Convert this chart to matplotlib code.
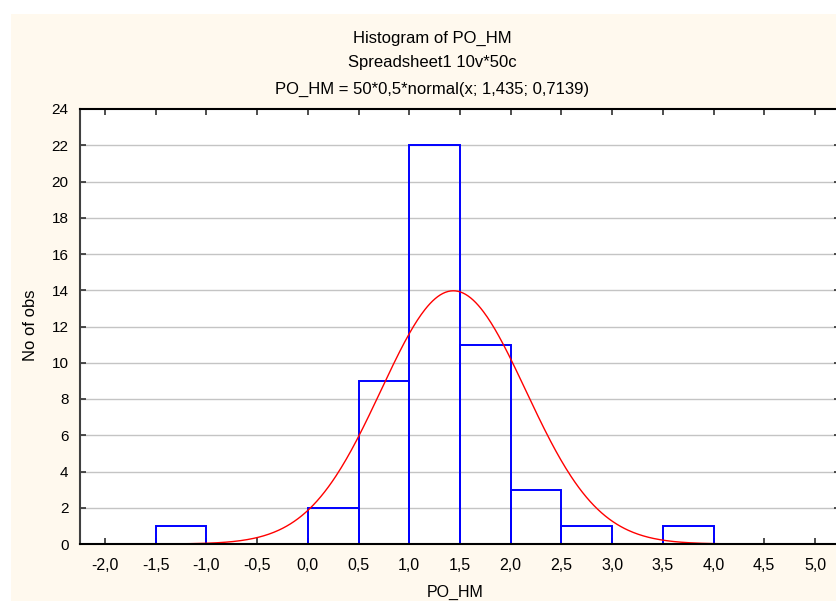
import numpy as np
import matplotlib
matplotlib.use("Agg")
import matplotlib.pyplot as plt

# ---- data ----
bin_edges_left = [-2.0, -1.5, -1.0, -0.5, 0.0, 0.5, 1.0, 1.5, 2.0, 2.5, 3.0, 3.5, 4.0, 4.5]
counts = [0, 1, 0, 0, 2, 9, 22, 11, 3, 1, 0, 1, 0, 0]
bin_width = 0.5
n_obs = 50
fit_mean = 1.435
fit_sd = 0.7139
x_ticks = [-2.0, -1.5, -1.0, -0.5, 0.0, 0.5, 1.0, 1.5, 2.0, 2.5, 3.0, 3.5, 4.0, 4.5, 5.0]
y_ticks = [0, 2, 4, 6, 8, 10, 12, 14, 16, 18, 20, 22, 24]
title_lines = ["Histogram of PO_HM", "Spreadsheet1 10v*50c",
               "PO_HM = 50*0,5*normal(x; 1,435; 0,7139)"]
x_label = "PO_HM"
y_label = "No of obs"

plt.rcParams['font.family'] = ['Liberation Sans', 'DejaVu Sans']

W, H = 837, 601
fig = plt.figure(figsize=(W / 100, H / 100), dpi=100, facecolor='white')

# cream panel
bg = fig.add_axes([11 / W, 0, 1 - 11 / W, (H - 14) / H], zorder=-10)
bg.set_facecolor('#FFF9EE')
bg.set_xticks([]); bg.set_yticks([])
for sp in bg.spines.values():
    sp.set_visible(False)

left_px, right_px, top_px, bottom_px = 79.6, 840.3, 109, 544
ax = fig.add_axes([left_px / W, (H - bottom_px) / H, (right_px - left_px) / W,
                   (bottom_px - top_px) / H], zorder=1)
ax.set_facecolor('white')
ax.set_xlim(-2.25, 5.25)
ax.set_ylim(0, 24)

# grid
for yv in y_ticks[1:-1]:
    ax.axhline(yv, color='#C4C4C4', lw=1.0, zorder=1)

# bars
ax.bar(bin_edges_left, counts, width=bin_width, align='edge', fill=False,
       edgecolor='#0000FF', linewidth=1.4, zorder=3)

# fitted normal curve (as stated in the chart subtitle)
xs = np.linspace(-2.25, 5.25, 600)
ys = n_obs * bin_width * np.exp(-0.5 * ((xs - fit_mean) / fit_sd) ** 2) / (fit_sd * np.sqrt(2 * np.pi))
ax.plot(xs, ys, color='#FF0000', lw=1.0, zorder=4)

ax.set_xticks(x_ticks)
ax.set_xticklabels([f"{v:.1f}".replace('.', ',') for v in x_ticks])
ax.set_yticks(y_ticks)
ax.set_yticklabels([str(v) for v in y_ticks])
ax.tick_params(axis='both', direction='in', length=4, width=1.2, color='#303030',
               labelcolor='black')
ax.tick_params(axis='x', top=True, bottom=True, pad=10, labelsize=11.5)
ax.tick_params(axis='y', left=True, right=True, pad=8, labelsize=11)

for s in ['top', 'bottom']:
    ax.spines[s].set_color('black')
    ax.spines[s].set_linewidth(1.5)
ax.spines['left'].set_color('#404040')
ax.spines['left'].set_linewidth(1.5)
ax.spines['right'].set_color('#404040')
for sp in ax.spines.values():
    sp.set_zorder(5)

ax.set_xlabel(x_label, fontsize=11.5)
ax.xaxis.set_label_coords((455 - left_px) / (right_px - left_px), -(592 - bottom_px) / (bottom_px - top_px))
ax.xaxis.label.set_va('center')
ax.set_ylabel(y_label, fontsize=12)
ax.yaxis.set_label_coords(-(left_px - 31) / (right_px - left_px), (bottom_px - 325) / (bottom_px - top_px))
ax.yaxis.label.set_va('center')

for txt, ypx in zip(title_lines, [38, 63, 89]):
    fig.text(432 / W, 1 - ypx / H, txt, ha='center', va='center', fontsize=12)

fig.savefig('out.png', dpi=100, facecolor='white')
